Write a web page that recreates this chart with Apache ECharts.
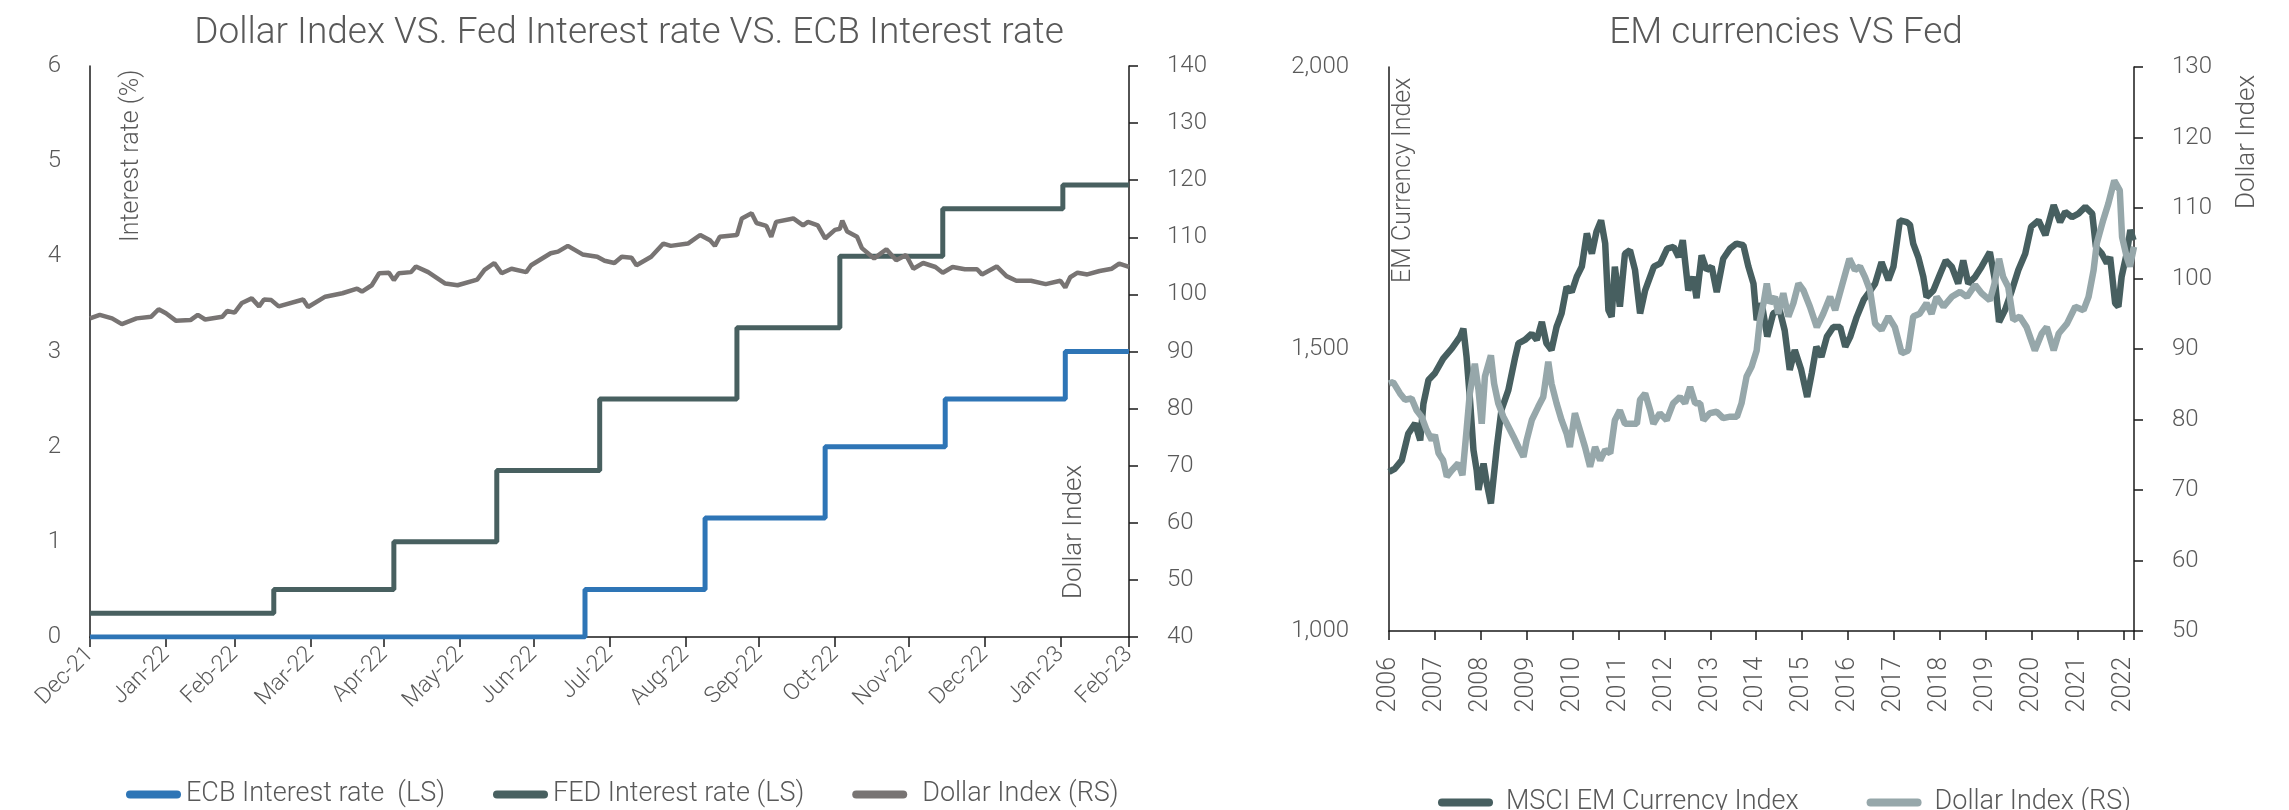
<!DOCTYPE html>
<html lang="en">
<head>
<meta charset="UTF-8">
<title>Dollar Index vs Fed / ECB rates, EM currencies vs Fed</title>
<script src="https://cdn.jsdelivr.net/npm/echarts/dist/echarts.min.js"></script>
<style>
    html, body { margin: 0; padding: 0; background: #fff; }
    #chart { width: 2289px; height: 810px; }
</style>
</head>
<body>
<div id="chart"></div>
<script>
    // ---------- left panel: policy rates (LS) + dollar index (RS) ----------
    var monthEnds = ['2021-12-31', '2022-01-31', '2022-02-28', '2022-03-31', '2022-04-30', '2022-05-31', '2022-06-30',
        '2022-07-31', '2022-08-31', '2022-09-30', '2022-10-31', '2022-11-30', '2022-12-31', '2023-01-31', '2023-02-28'];
    var monthLabels = ['Dec-21', 'Jan-22', 'Feb-22', 'Mar-22', 'Apr-22', 'May-22', 'Jun-22',
        'Jul-22', 'Aug-22', 'Sep-22', 'Oct-22', 'Nov-22', 'Dec-22', 'Jan-23', 'Feb-23'];

    var fedDates = ['2021-12-31', '2022-03-16', '2022-05-04', '2022-06-15', '2022-07-27', '2022-09-21',
        '2022-11-02', '2022-12-14', '2023-02-01', '2023-02-28'];
    var fedRates = [0.25, 0.5, 1.0, 1.75, 2.5, 3.25, 4.0, 4.5, 4.75, 4.75];

    var ecbDates = ['2021-12-31', '2022-07-21', '2022-09-08', '2022-10-27', '2022-12-15', '2023-02-02', '2023-02-28'];
    var ecbRates = [0, 0.5, 1.25, 2.0, 2.5, 3.0, 3.0];

    var dxyDates = ['2021-12-31', '2022-01-04', '2022-01-09', '2022-01-13', '2022-01-19', '2022-01-25', '2022-01-28', '2022-01-31', '2022-02-04', '2022-02-10',
        '2022-02-13', '2022-02-16', '2022-02-23', '2022-02-25', '2022-02-28', '2022-03-03', '2022-03-07', '2022-03-10', '2022-03-12', '2022-03-15',
        '2022-03-18', '2022-03-28', '2022-03-30', '2022-04-06', '2022-04-13', '2022-04-19', '2022-04-21', '2022-04-25', '2022-04-28', '2022-05-02',
        '2022-05-04', '2022-05-06', '2022-05-11', '2022-05-13', '2022-05-18', '2022-05-25', '2022-05-30', '2022-06-07', '2022-06-10', '2022-06-14',
        '2022-06-17', '2022-06-21', '2022-06-27', '2022-06-29', '2022-07-07', '2022-07-10', '2022-07-14', '2022-07-20', '2022-07-26', '2022-07-29',
        '2022-08-02', '2022-08-05', '2022-08-09', '2022-08-11', '2022-08-17', '2022-08-22', '2022-08-25', '2022-09-01', '2022-09-06', '2022-09-10',
        '2022-09-12', '2022-09-14', '2022-09-21', '2022-09-23', '2022-09-27', '2022-09-29', '2022-10-03', '2022-10-05', '2022-10-07', '2022-10-14',
        '2022-10-18', '2022-10-20', '2022-10-24', '2022-10-27', '2022-10-31', '2022-11-02', '2022-11-03', '2022-11-05', '2022-11-09', '2022-11-11',
        '2022-11-16', '2022-11-21', '2022-11-25', '2022-11-29', '2022-12-02', '2022-12-06', '2022-12-11', '2022-12-14', '2022-12-18', '2022-12-23',
        '2022-12-28', '2022-12-30', '2023-01-05', '2023-01-09', '2023-01-13', '2023-01-19', '2023-01-25', '2023-01-31', '2023-02-02', '2023-02-04',
        '2023-02-07', '2023-02-11', '2023-02-16', '2023-02-21', '2023-02-24', '2023-02-28'];
    var dxyValues = [95.8, 96.4, 95.8, 94.8, 95.8, 96.1, 97.4, 96.7, 95.4, 95.5,
        96.4, 95.6, 96.1, 97.1, 96.8, 98.5, 99.3, 97.9, 99.1, 99.0,
        97.9, 99.1, 97.8, 99.6, 100.2, 101.0, 100.5, 101.6, 103.7, 103.8,
        102.5, 103.7, 103.9, 104.9, 103.9, 101.9, 101.6, 102.6, 104.3, 105.5,
        103.7, 104.5, 103.9, 105.1, 107.2, 107.5, 108.5, 107.0, 106.6, 105.9,
        105.5, 106.6, 106.4, 105.1, 106.6, 108.9, 108.5, 108.9, 110.4, 109.5,
        108.5, 110.1, 110.4, 113.3, 114.2, 112.5, 112.0, 110.1, 112.7, 113.3,
        112.1, 112.7, 112.1, 109.8, 111.3, 111.5, 112.9, 111.0, 110.1, 108.1,
        106.3, 107.9, 106.0, 106.9, 104.5, 105.5, 104.8, 103.8, 104.8, 104.4,
        104.4, 103.5, 104.9, 103.2, 102.4, 102.4, 101.8, 102.4, 101.2, 103.0,
        103.8, 103.5, 104.1, 104.5, 105.4, 104.8];

    // ---------- right panel: MSCI EM currency index (LS) + dollar index (RS) ----------
    var yearLabels = [2006, 2007, 2008, 2009, 2010, 2011, 2012, 2013, 2014, 2015, 2016, 2017, 2018, 2019, 2020, 2021, 2022];

    var emYears = [2006.00, 2006.13, 2006.28, 2006.42, 2006.57, 2006.68, 2006.75, 2006.86, 2007.00, 2007.18,
        2007.37, 2007.55, 2007.62, 2007.69, 2007.76, 2007.84, 2007.91, 2007.95, 2008.06, 2008.13,
        2008.22, 2008.35, 2008.45, 2008.60, 2008.75, 2008.82, 2008.96, 2009.11, 2009.22, 2009.33,
        2009.43, 2009.54, 2009.65, 2009.76, 2009.87, 2009.98, 2010.09, 2010.20, 2010.31, 2010.42,
        2010.52, 2010.62, 2010.71, 2010.78, 2010.85, 2010.92, 2011.03, 2011.14, 2011.25, 2011.36,
        2011.47, 2011.58, 2011.77, 2011.91, 2012.06, 2012.20, 2012.31, 2012.40, 2012.52, 2012.63,
        2012.70, 2012.81, 2012.92, 2013.03, 2013.14, 2013.28, 2013.43, 2013.57, 2013.72, 2013.83,
        2013.94, 2014.01, 2014.12, 2014.24, 2014.37, 2014.51, 2014.62, 2014.73, 2014.84, 2014.98,
        2015.11, 2015.21, 2015.31, 2015.42, 2015.54, 2015.68, 2015.83, 2015.94, 2016.05, 2016.19,
        2016.34, 2016.49, 2016.59, 2016.73, 2016.88, 2016.99, 2017.13, 2017.28, 2017.35, 2017.42,
        2017.53, 2017.64, 2017.71, 2017.86, 2018.01, 2018.13, 2018.26, 2018.40, 2018.51, 2018.62,
        2018.77, 2018.91, 2019.09, 2019.20, 2019.29, 2019.42, 2019.57, 2019.71, 2019.86, 2019.99,
        2020.15, 2020.30, 2020.48, 2020.62, 2020.73, 2020.88, 2021.02, 2021.17, 2021.32, 2021.40,
        2021.53, 2021.64, 2021.71, 2021.82, 2021.89, 2021.96, 2022.07, 2022.15, 2022.22];
    var emValues = [1282, 1288, 1303, 1350, 1368, 1338, 1403, 1445, 1457, 1483,
        1501, 1522, 1536, 1486, 1415, 1321, 1285, 1250, 1297, 1262,
        1226, 1327, 1392, 1427, 1486, 1510, 1516, 1527, 1516, 1548,
        1510, 1498, 1539, 1563, 1610, 1601, 1628, 1646, 1705, 1669,
        1708, 1728, 1687, 1569, 1557, 1646, 1575, 1669, 1675, 1640,
        1563, 1604, 1646, 1652, 1678, 1681, 1663, 1693, 1604, 1628,
        1590, 1666, 1640, 1646, 1601, 1660, 1678, 1687, 1684, 1646,
        1616, 1551, 1581, 1522, 1563, 1569, 1533, 1463, 1498, 1463,
        1415, 1457, 1504, 1486, 1522, 1539, 1539, 1504, 1522, 1557,
        1587, 1604, 1616, 1654, 1622, 1646, 1728, 1725, 1720, 1687,
        1663, 1628, 1592, 1604, 1634, 1657, 1646, 1616, 1657, 1616,
        1628, 1646, 1672, 1622, 1548, 1569, 1604, 1640, 1669, 1717,
        1728, 1702, 1755, 1725, 1743, 1734, 1740, 1752, 1740, 1681,
        1669, 1652, 1663, 1581, 1575, 1628, 1669, 1711, 1693];

    var usdYears = [2006.00, 2006.09, 2006.24, 2006.35, 2006.49, 2006.60, 2006.71, 2006.82, 2006.93, 2007.00,
        2007.08, 2007.18, 2007.26, 2007.37, 2007.51, 2007.60, 2007.69, 2007.76, 2007.87, 2007.95,
        2008.02, 2008.09, 2008.22, 2008.29, 2008.38, 2008.49, 2008.60, 2008.71, 2008.82, 2008.93,
        2009.00, 2009.11, 2009.25, 2009.36, 2009.47, 2009.54, 2009.65, 2009.76, 2009.87, 2009.94,
        2010.05, 2010.16, 2010.27, 2010.38, 2010.49, 2010.60, 2010.71, 2010.82, 2010.92, 2011.03,
        2011.14, 2011.25, 2011.40, 2011.47, 2011.58, 2011.69, 2011.76, 2011.90, 2012.05, 2012.19,
        2012.34, 2012.45, 2012.56, 2012.67, 2012.78, 2012.85, 2012.99, 2013.14, 2013.28, 2013.43,
        2013.58, 2013.68, 2013.79, 2013.90, 2014.01, 2014.08, 2014.16, 2014.23, 2014.30, 2014.41,
        2014.48, 2014.59, 2014.70, 2014.81, 2014.92, 2015.03, 2015.17, 2015.32, 2015.46, 2015.61,
        2015.72, 2015.86, 2016.03, 2016.15, 2016.26, 2016.37, 2016.48, 2016.59, 2016.73, 2016.88,
        2017.02, 2017.17, 2017.31, 2017.42, 2017.56, 2017.71, 2017.82, 2017.93, 2018.08, 2018.26,
        2018.44, 2018.59, 2018.77, 2018.91, 2019.09, 2019.20, 2019.29, 2019.38, 2019.49, 2019.60,
        2019.74, 2019.89, 2020.07, 2020.22, 2020.33, 2020.48, 2020.59, 2020.77, 2020.95, 2021.13,
        2021.24, 2021.35, 2021.42, 2021.56, 2021.67, 2021.80, 2021.92, 2021.97, 2022.07, 2022.14,
        2022.23];
    var usdValues = [85.1, 85.3, 83.7, 82.8, 83.0, 81.3, 80.4, 78.5, 77.1, 77.8,
        75.2, 74.2, 71.9, 72.8, 73.8, 72.1, 78.5, 83.7, 87.9, 84.2,
        79.4, 86.1, 89.1, 85.1, 82.3, 80.4, 79.0, 77.6, 76.1, 74.7,
        77.1, 79.9, 81.8, 83.2, 88.2, 85.1, 82.3, 79.9, 78.0, 76.1,
        80.9, 78.5, 76.1, 73.3, 76.1, 74.2, 75.7, 75.2, 79.9, 81.3,
        79.4, 79.4, 79.4, 82.8, 83.7, 81.3, 79.4, 80.9, 79.9, 82.3,
        83.2, 82.3, 84.6, 82.3, 82.3, 79.9, 80.9, 81.1, 80.2, 80.4,
        80.4, 82.3, 86.1, 87.5, 89.8, 94.1, 96.5, 99.3, 96.5, 97.4,
        95.0, 97.9, 94.6, 96.5, 99.3, 98.3, 96.0, 93.1, 95.0, 97.4,
        95.5, 98.8, 102.8, 101.2, 101.7, 100.2, 98.3, 93.6, 92.7, 94.6,
        93.1, 89.4, 89.8, 94.6, 95.0, 96.5, 95.0, 97.4, 96.0, 97.4,
        98.1, 97.4, 99.1, 97.9, 96.9, 99.5, 102.8, 100.2, 98.8, 94.1,
        94.6, 93.1, 89.8, 92.2, 93.1, 89.8, 92.2, 93.6, 96.0, 95.5,
        97.4, 101.2, 105.0, 108.3, 110.6, 113.9, 112.5, 105.9, 103.1, 101.7,
        104.5];

    // ---------- styling ----------
    var TXT = '#595959';
    var AXIS = '#1a1a1a';
    var FONT = 'Roboto';
    var C_ECB = '#2e75b6', C_FED = '#486060', C_DXY = '#787473', C_EM = '#475f60', C_USD = '#96a7aa';
    var PILL = 'path://M4,0H51A4,4 0 0 1 51,8H4A4,4 0 0 1 4,0Z';

    // dates -> timestamps, the left x axis is a plain value axis in ms
    function ts(d) { return echarts.time.parse(d).getTime(); }
    function zipDates(dates, vals) {
        return dates.map(function (d, i) { return [ts(d), vals[i]]; });
    }
    function zip(a, b) {
        return a.map(function (x, i) { return [x, b[i]]; });
    }

    var monthTicks = monthEnds.map(ts);
    var labelByTime = {};
    monthTicks.forEach(function (t, i) { labelByTime[t] = monthLabels[i]; });

    function lbl(extra) {
        var o = { color: TXT, fontFamily: FONT, fontWeight: 300, fontSize: 24 };
        for (var k in extra) o[k] = extra[k];
        return o;
    }
    var axisLine = { show: true, onZero: false, lineStyle: { color: AXIS, width: 1.5 } };
    var tickOut = { show: true, length: 9, lineStyle: { color: AXIS, width: 1.5 } };

    var chart = echarts.init(document.getElementById('chart'));

    var option = {
        backgroundColor: '#fff',
        animation: false,
        title: [
            {
                text: 'Dollar Index VS. Fed Interest rate VS. ECB Interest rate',
                left: 624, top: 10, textAlign: 'center',
                textStyle: { color: TXT, fontFamily: FONT, fontWeight: 300, fontSize: 37 }
            },
            {
                text: 'EM currencies VS Fed',
                left: 1781, top: 10, textAlign: 'center',
                textStyle: { color: TXT, fontFamily: FONT, fontWeight: 300, fontSize: 37 }
            }
        ],
        legend: [
            {
                left: 121, top: 776, itemWidth: 55, itemHeight: 8, itemGap: 48, icon: PILL,
                textStyle: lbl({ fontSize: 27 }),
                data: [
                    { name: 'ECB Interest rate  (LS)', itemStyle: { color: C_ECB } },
                    { name: 'FED Interest rate (LS)', itemStyle: { color: C_FED } },
                    { name: 'Dollar Index (RS)', itemStyle: { color: C_DXY }, textStyle: { padding: [0, 0, 0, 10] } }
                ]
            },
            {
                left: 1433, top: 784, itemWidth: 55, itemHeight: 8, itemGap: 68, icon: PILL,
                textStyle: lbl({ fontSize: 27, padding: [0, 0, 0, 8] }),
                data: [
                    { name: 'MSCI EM Currency Index', itemStyle: { color: C_EM } },
                    { name: 'Dollar Index (RS)', itemStyle: { color: C_USD } }
                ]
            }
        ],
        grid: [
            { left: 90, right: 1160, top: 66, bottom: 173 },
            { left: 1389, right: 155, top: 67, bottom: 179 }
        ],
        xAxis: [
            {
                type: 'value', gridIndex: 0,
                min: monthTicks[0], max: monthTicks[monthTicks.length - 1],
                axisLine: axisLine,
                axisTick: { show: true, length: 10, customValues: monthTicks, lineStyle: { color: AXIS, width: 1.5 } },
                axisLabel: lbl({
                    customValues: monthTicks, rotate: 45, margin: 14, fontSize: 23, hideOverlap: false,
                    formatter: function (v) { return labelByTime[v] || ''; }
                }),
                splitLine: { show: false }
            },
            {
                type: 'value', gridIndex: 1, min: 2006, max: 2022.23, interval: 1,
                axisLine: axisLine,
                axisTick: tickOut,
                axisLabel: lbl({
                    customValues: yearLabels, rotate: 90, margin: 26, fontSize: 25,
                    formatter: function (v) { return String(v); }
                }),
                splitLine: { show: false }
            }
        ],
        yAxis: [
            {
                type: 'value', gridIndex: 0, position: 'left', min: 0, max: 6, interval: 1,
                axisLine: axisLine, axisTick: { show: false }, splitLine: { show: false },
                axisLabel: lbl({ margin: 29 })
            },
            {
                type: 'value', gridIndex: 0, position: 'right', min: 40, max: 140, interval: 10,
                axisLine: axisLine, axisTick: tickOut, splitLine: { show: false },
                axisLabel: lbl({ margin: 38 })
            },
            {
                type: 'value', gridIndex: 1, position: 'left', min: 1000, max: 2000, interval: 500,
                axisLine: axisLine, axisTick: { show: false }, splitLine: { show: false },
                axisLabel: lbl({ margin: 40, formatter: function (v) { return echarts.format.addCommas(v); } })
            },
            {
                type: 'value', gridIndex: 1, position: 'right', min: 50, max: 130, interval: 10,
                axisLine: axisLine, axisTick: tickOut, splitLine: { show: false },
                axisLabel: lbl({ margin: 38 })
            }
        ],
        graphic: [
            { type: 'text', x: 132, y: 242, rotation: Math.PI / 2,
              style: { text: 'Interest rate (%)', fill: TXT, font: '300 25px Roboto', align: 'left', verticalAlign: 'middle' } },
            { type: 'text', x: 1074, y: 599, rotation: Math.PI / 2,
              style: { text: 'Dollar Index', fill: TXT, font: '300 26px Roboto', align: 'left', verticalAlign: 'middle' } },
            { type: 'text', x: 1404, y: 283, rotation: Math.PI / 2,
              style: { text: 'EM Currency Index', fill: TXT, font: '300 25px Roboto', align: 'left', verticalAlign: 'middle' } },
            { type: 'text', x: 2247, y: 209, rotation: Math.PI / 2,
              style: { text: 'Dollar Index', fill: TXT, font: '300 26px Roboto', align: 'left', verticalAlign: 'middle' } }
        ],
        series: [
            {
                name: 'ECB Interest rate  (LS)', type: 'line', xAxisIndex: 0, yAxisIndex: 0,
                step: 'end', showSymbol: false, data: zipDates(ecbDates, ecbRates),
                itemStyle: { color: C_ECB }, lineStyle: { color: C_ECB, width: 5 }
            },
            {
                name: 'FED Interest rate (LS)', type: 'line', xAxisIndex: 0, yAxisIndex: 0,
                step: 'end', showSymbol: false, data: zipDates(fedDates, fedRates),
                itemStyle: { color: C_FED }, lineStyle: { color: C_FED, width: 5 }
            },
            {
                name: 'Dollar Index (RS)', type: 'line', xAxisIndex: 0, yAxisIndex: 1,
                showSymbol: false, data: zipDates(dxyDates, dxyValues),
                itemStyle: { color: C_DXY }, lineStyle: { color: C_DXY, width: 4.5 }
            },
            {
                name: 'MSCI EM Currency Index', type: 'line', xAxisIndex: 1, yAxisIndex: 2,
                showSymbol: false, data: zip(emYears, emValues),
                itemStyle: { color: C_EM }, lineStyle: { color: C_EM, width: 6.5 }
            },
            {
                name: 'Dollar Index (RS)', type: 'line', xAxisIndex: 1, yAxisIndex: 3,
                showSymbol: false, data: zip(usdYears, usdValues),
                itemStyle: { color: C_USD }, lineStyle: { color: C_USD, width: 6.5 }
            }
        ]
    };

    chart.setOption(option);
</script>
</body>
</html>
